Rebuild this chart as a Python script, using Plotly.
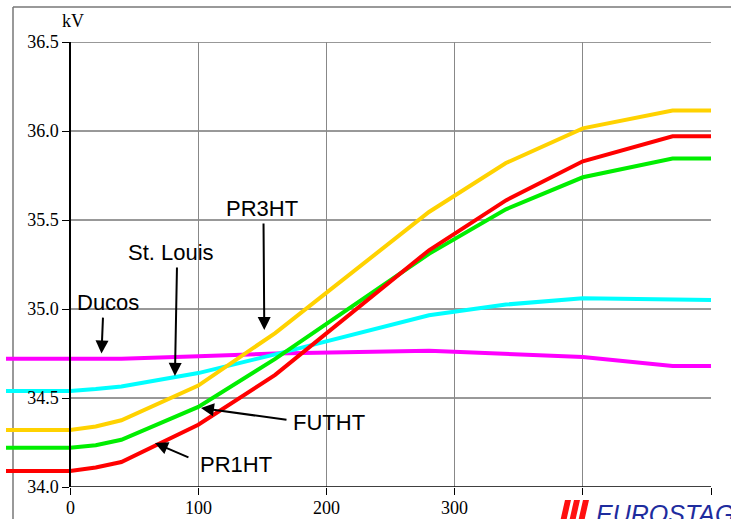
import plotly.graph_objects as go

# ---- data ----
t = [-50, 0, 20, 40, 100, 160, 280, 340, 400, 470, 500]
pr1ht = [34.09, 34.09, 34.11, 34.14, 34.35, 34.63, 35.33, 35.61, 35.83, 35.97, 35.97]
pr3ht = [34.32, 34.32, 34.34, 34.375, 34.57, 34.865, 35.545, 35.82, 36.015, 36.115, 36.115]
futht = [34.22, 34.22, 34.235, 34.265, 34.45, 34.72, 35.31, 35.56, 35.74, 35.845, 35.845]
stlouis = [34.54, 34.54, 34.55, 34.565, 34.64, 34.745, 34.965, 35.025, 35.06, 35.05, 35.05]
ducos = [34.72, 34.72, 34.72, 34.72, 34.735, 34.75, 34.765, 34.75, 34.73, 34.68, 34.68]

x_ticks = [0, 100, 200, 300, 400, 500]
x_ticklabels = ["0", "100", "200", "300", "", ""]   # 400/500 hidden under the logo
y_ticks = [34.0, 34.5, 35.0, 35.5, 36.0, 36.5]
y_ticklabels = ["34.0", "34.5", "35.0", "35.5", "36.0", "36.5"]

series = [
    ("Ducos", ducos, "#FF00FF"),
    ("St. Louis", stlouis, "#00FFFF"),
    ("PR3HT", pr3ht, "#FFD200"),
    ("FUTHT", futht, "#00EE00"),
    ("PR1HT", pr1ht, "#FF0000"),
]

# label text positions and arrow (tail -> tip) in data coords
labels = [
    ("Ducos", 29.6, 35.034, (25.7, 34.96), (24.5, 34.75)),
    ("St. Louis", 78.7, 35.315, (83.4, 35.242), (81.8, 34.624)),
    ("PR3HT", 149.7, 35.562, (150.9, 35.489), (151.5, 34.882)),
    ("FUTHT", 202.0, 34.36, (170.0, 34.376), (102.1, 34.444)),
    ("PR1HT", 129.4, 34.124, (93.5, 34.163), (66.2, 34.247)),
]

fig = go.Figure()
for name, vals, col in series:
    fig.add_trace(go.Scatter(x=t, y=vals, mode="lines", name=name,
                             line=dict(color=col, width=4), showlegend=False))

shapes = []
# horizontal grid lines (start at x=0)
for yv in y_ticks[1:]:
    shapes.append(dict(type="line", xref="x", yref="y", x0=0, x1=500, y0=yv, y1=yv,
                       line=dict(color="#333333", width=1), layer="below"))
# x axis line
shapes.append(dict(type="line", xref="x", yref="y", x0=0, x1=500, y0=34.0, y1=34.0,
                   line=dict(color="black", width=1.5), layer="above"))
# outer frame (top/left)
fx = (13 - 6) / 705
fy = (487 - 7) / 445
shapes.append(dict(type="line", xref="paper", yref="paper", x0=fx, x1=fx, y0=-0.2, y1=fy,
                   line=dict(color="#777777", width=1.5), layer="below"))
shapes.append(dict(type="line", xref="paper", yref="paper", x0=fx, x1=1.1, y0=fy, y1=fy,
                   line=dict(color="#777777", width=1.5), layer="below"))

# logo: red stripes (pixel-based paper coords)
def px(xp):
    return (xp - 6) / 705

def py(yp):
    return (487 - yp) / 445

for i in range(3):
    x0 = 560 + i * 9
    path = (f"M {px(x0)},{py(522)} L {px(x0 + 6)},{py(522)} "
            f"L {px(x0 + 11)},{py(500)} L {px(x0 + 5)},{py(500)} Z")
    shapes.append(dict(type="path", xref="paper", yref="paper", path=path,
                       fillcolor="#FF1010", line=dict(width=0), layer="above"))

annotations = []
for text, tx, ty, tail, tip in labels:
    annotations.append(dict(x=tx, y=ty, xref="x", yref="y", text=text, showarrow=False,
                            font=dict(family="Liberation Sans, Arial", size=22, color="black"),
                            xanchor="center", yanchor="middle"))
    annotations.append(dict(x=tip[0], y=tip[1], ax=tail[0], ay=tail[1], xref="x", yref="y",
                            axref="x", ayref="y", text="", showarrow=True,
                            arrowhead=2, arrowsize=1.3, arrowwidth=2, arrowcolor="black",
                            standoff=0))
# x tick labels placed close under the axis
for tv, tl in zip(x_ticks, x_ticklabels):
    if tl:
        annotations.append(dict(x=tv, y=0, xref="x", yref="paper", text=tl, showarrow=False,
                                xanchor="center", yanchor="top", yshift=-9,
                                font=dict(family="Liberation Serif, Times New Roman", size=18,
                                          color="black")))
annotations.append(dict(x=px(73), y=py(21), xref="paper", yref="paper", text="kV",
                        showarrow=False, xanchor="center", yanchor="middle",
                        font=dict(family="Liberation Serif, Times New Roman", size=18, color="black")))
annotations.append(dict(x=px(594), y=py(498), xref="paper", yref="paper",
                        text="<i>EUROSTAG</i>", showarrow=False, xanchor="left", yanchor="top",
                        font=dict(family="Liberation Sans, Arial", size=25, color="#1E2C9E")))

fig.update_layout(
    width=731, height=519,
    margin=dict(l=6, r=20, t=42, b=32),
    paper_bgcolor="white", plot_bgcolor="white",
    xaxis=dict(range=[-50, 500], tickvals=x_ticks, showticklabels=False,
               showgrid=True, gridcolor="#888888", gridwidth=1, zeroline=False,
               showline=False, ticks="outside", ticklen=7, tickcolor="black", automargin=False),
    yaxis=dict(range=[34.0, 36.5], tickvals=y_ticks, ticktext=y_ticklabels,
               showgrid=False, zeroline=False, anchor="free", position=50 / 550,
               showline=True, linecolor="black", linewidth=1.5, automargin=False,
               ticks="outside", ticklen=7, tickcolor="black",
               tickfont=dict(family="Liberation Serif, Times New Roman", size=18, color="black")),
    shapes=shapes,
    annotations=annotations,
)

fig.write_html("out.html", config={"displayModeBar": False},
               post_script="document.body.style.margin='0';document.body.style.padding='0';")
